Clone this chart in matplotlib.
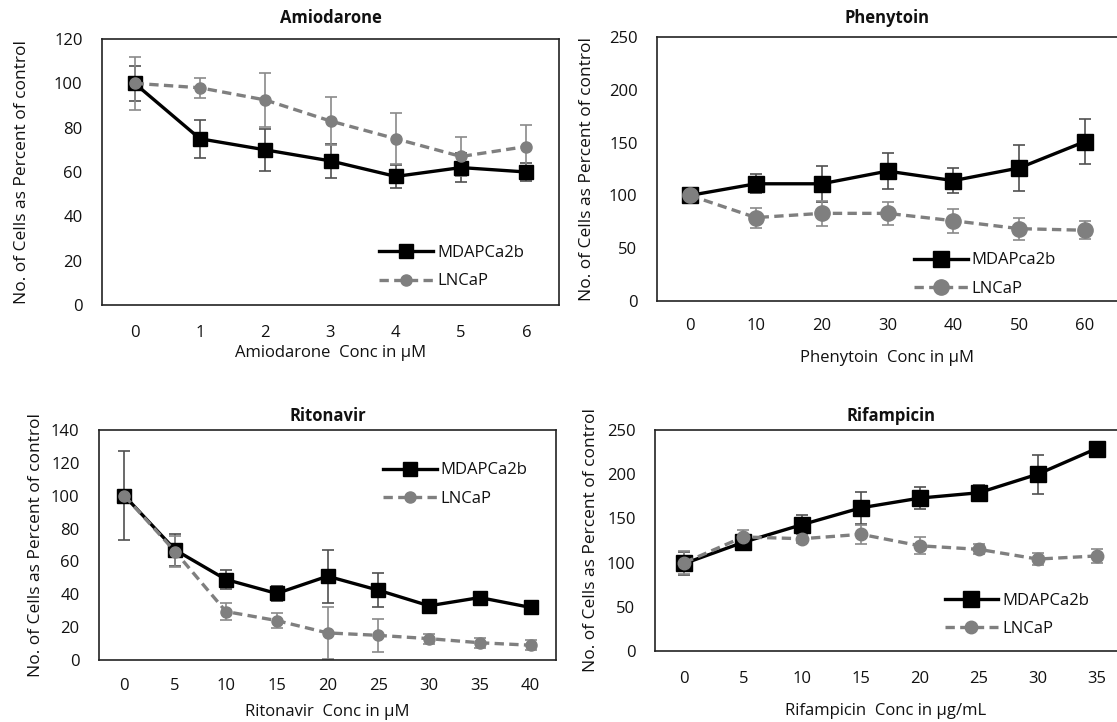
import matplotlib
matplotlib.use("Agg")
import matplotlib.pyplot as plt

plt.rcParams['font.family'] = ['Open Sans', 'DejaVu Sans']

# ---------------- data ----------------
amio_x = ['0', '1', '2', '3', '4', '5', '6']
amio_mda = [100, 75, 70, 65, 58, 62, 60]
amio_mda_err = [8, 8.5, 9.5, 7.5, 5, 6.5, 4]
amio_ln = [100, 98, 92.5, 83, 75, 67, 71.5]
amio_ln_err = [12, 4.5, 12, 11, 11.5, 9, 9.5]

phen_x = ['0', '10', '20', '30', '40', '50', '60']
phen_mda = [100, 111, 111, 123, 114, 126, 151]
phen_mda_err = [3, 9, 17, 17, 12, 21.5, 21]
phen_ln = [100, 79, 83, 83, 76, 68.5, 67]
phen_ln_err = [3, 9.5, 12, 11, 11.5, 10.5, 8.5]

rito_x = ['0', '5', '10', '15', '20', '25', '30', '35', '40']
rito_mda = [100, 67, 49, 40.5, 51, 42.5, 33, 38, 32]
rito_mda_err = [27, 10, 5.5, 4.5, 16, 10.5, 2, 2, 2]
rito_ln = [100, 66, 29.5, 24, 16.5, 15, 13, 10.5, 9]
rito_ln_err = [2, 9.5, 5, 4.8, 16, 10, 3, 3, 3]

rif_x = ['0', '5', '10', '15', '20', '25', '30', '35']
rif_mda = [99, 123, 143, 162, 173, 179, 200, 229]
rif_mda_err = [13, 7, 11, 18, 12, 8.5, 22, 4]
rif_ln = [100, 129, 127, 132, 119, 115, 104, 107.5]
rif_ln_err = [13, 8, 5, 11, 9.5, 5.5, 7, 8]

W, H = 1117, 722
fig = plt.figure(figsize=(W / 100, H / 100), dpi=100)

def px_axes(l, t, r, b):
    return fig.add_axes([l / W, 1 - b / H, (r - l) / W, (b - t) / H])

panels = [
    dict(box=(102, 39, 559, 305), title='Amiodarone', xl='Amiodarone  Conc in µM',
         cats=amio_x, mda=amio_mda, mdae=amio_mda_err, ln=amio_ln, lne=amio_ln_err,
         ymax=120, ystep=20, labs=('MDAPCa2b', 'LNCaP'), leg=(0.607, 0.1425),
         ms=(10, 8), xlab_dy=48, ylab_dx=80, tick_dy=20, title_dy=21),
    dict(box=(657, 37, 1118, 301), title='Phenytoin', xl='Phenytoin  Conc in µM',
         cats=phen_x, mda=phen_mda, mdae=phen_mda_err, ln=phen_ln, lne=phen_ln_err,
         ymax=250, ystep=50, labs=('MDAPca2b', 'LNCaP'), leg=(0.558, 0.0995),
         ms=(12, 11), xlab_dy=57, ylab_dx=70, tick_dy=17, title_dy=19),
    dict(box=(99, 430, 556, 660), title='Ritonavir', xl='Ritonavir  Conc in µM',
         cats=rito_x, mda=rito_mda, mdae=rito_mda_err, ln=rito_ln, lne=rito_ln_err,
         ymax=140, ystep=20, labs=('MDAPCa2b', 'LNCaP'), leg=(0.622, 0.7625),
         ms=(10, 8), xlab_dy=52, ylab_dx=63, tick_dy=18, title_dy=14),
    dict(box=(655, 430, 1126, 651), title='Rifampicin', xl='Rifampicin  Conc in µg/mL',
         cats=rif_x, mda=rif_mda, mdae=rif_mda_err, ln=rif_ln, lne=rif_ln_err,
         ymax=250, ystep=50, labs=('MDAPCa2b', 'LNCaP'), leg=(0.615, 0.164),
         ms=(11, 9), xlab_dy=60, ylab_dx=64, tick_dy=20, title_dy=14),
]

BLACK = '#000000'
GREY = '#7f7f7f'
TXT = '#111111'
FS = 12

for p in panels:
    l, t, r, b = p['box']
    ax = px_axes(l, t, r, b)
    n = len(p['cats'])
    xs = list(range(n))
    ax.errorbar(xs, p['mda'], yerr=p['mdae'], fmt='none', ecolor='#505050',
                elinewidth=1.2, capsize=4, capthick=1.2, zorder=2)
    ax.errorbar(xs, p['ln'], yerr=p['lne'], fmt='none', ecolor='#8a8a8a',
                elinewidth=1.2, capsize=4, capthick=1.2, zorder=2)
    ax.plot(xs, p['mda'], color=BLACK, lw=2.4, marker='s', ms=p['ms'][0],
            mfc=BLACK, mec=BLACK, label=p['labs'][0], zorder=3)
    ax.plot(xs, p['ln'], color=GREY, lw=2.4, marker='o', ms=p['ms'][1],
            mfc=GREY, mec=GREY, dashes=(2.8, 1.6), label=p['labs'][1], zorder=4)
    ax.set_xlim(-0.5, n - 0.5)
    ax.set_ylim(0, p['ymax'])
    ax.set_xticks(xs)
    ax.set_xticklabels(p['cats'])
    ax.set_yticks(list(range(0, p['ymax'] + 1, p['ystep'])))
    ax.tick_params(axis='both', length=0, labelsize=FS, colors=TXT)
    ax.tick_params(axis='x', pad=p['tick_dy'] * 0.72)
    ax.tick_params(axis='y', pad=14)
    for s in ax.spines.values():
        s.set_color('#222222')
        s.set_linewidth(1.2)
    hpx = b - t
    wpx = r - l
    xc = 0.5 * (min(r, W) - l) / wpx if r > W else 0.5
    ax.text(xc if p['title'] != 'Rifampicin' else 0.5, 1 + p['title_dy'] / hpx,
            p['title'], transform=ax.transAxes, ha='center', va='center',
            fontsize=FS, fontweight='bold', color=TXT)
    ax.set_xlabel(p['xl'], fontsize=FS, color=TXT)
    ax.xaxis.label.set_va('center')
    ax.xaxis.set_label_coords(xc, -p['xlab_dy'] / hpx)
    ax.set_ylabel('No. of Cells as Percent of control', fontsize=12.5, color=TXT)
    ax.yaxis.label.set_va('center')
    ax.yaxis.set_label_coords(-p['ylab_dx'] / wpx, 0.5)
    leg = ax.legend(loc='center left', bbox_to_anchor=p['leg'], frameon=False,
                    fontsize=FS, handlelength=3.2, handletextpad=0.25,
                    labelspacing=0.75, borderpad=0, borderaxespad=0)
    for txt in leg.get_texts():
        txt.set_color(TXT)

fig.savefig('out.png', dpi=100)
